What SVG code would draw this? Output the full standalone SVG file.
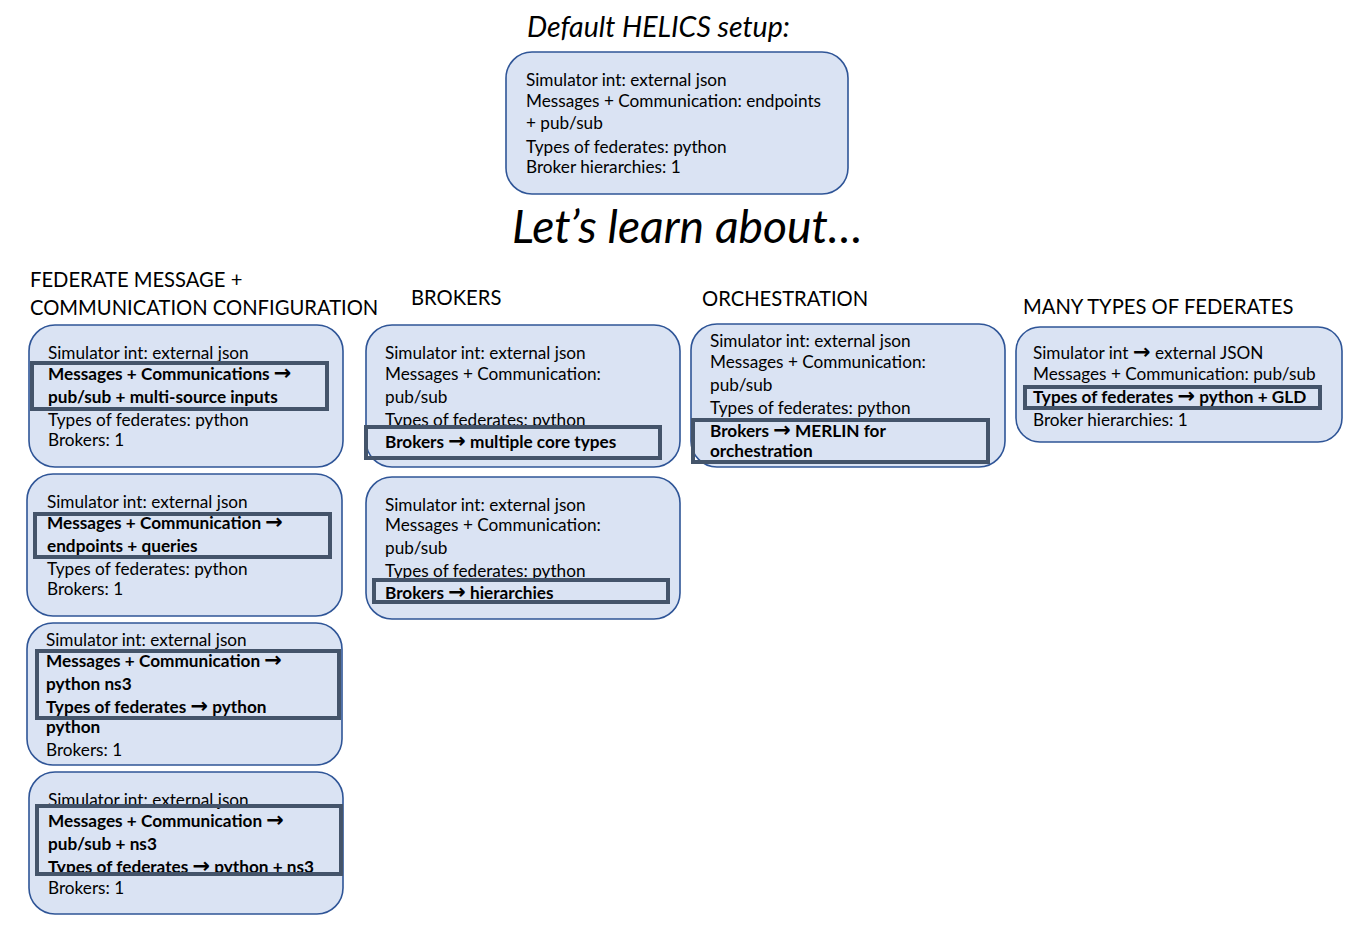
<svg xmlns="http://www.w3.org/2000/svg" width="1366" height="939" viewBox="0 0 1366 939">
<style>
text{font-family:Lato,"Liberation Sans",sans-serif;fill:#000}
.b{fill:#dae3f3;stroke:#2f5597;stroke-width:1.6}
.h{fill:none;stroke:#44546a;stroke-width:4}
.t{font-size:17.2px}
.bd{font-weight:bold}
.hd{font-size:20.2px}
.it{font-style:italic}
.a{font-family:"DejaVu Sans",sans-serif;font-weight:bold;font-size:21px}
</style>
<rect width="1366" height="939" fill="#fff"/>
<text class="it" x="527" y="37" font-size="28.5">Default HELICS setup:</text>
<g id="default">
<rect class="b" x="506" y="52" width="342" height="142" rx="26"/>
<text class="t" x="526" y="86">Simulator int: external json</text>
<text class="t" x="526" y="107">Messages + Communication: endpoints</text>
<text class="t" x="526" y="129">+ pub/sub</text>
<text class="t" x="526" y="153">Types of federates: python</text>
<text class="t" x="526" y="173">Broker hierarchies: 1</text>
</g>
<text class="it" x="512" y="243" font-size="46.3">Let’s learn about…</text>
<text class="hd" x="30" y="287">FEDERATE MESSAGE +</text>
<text class="hd" x="30" y="315">COMMUNICATION CONFIGURATION</text>
<text class="hd" x="411" y="305">BROKERS</text>
<text class="hd" x="702" y="306">ORCHESTRATION</text>
<text class="hd" x="1023" y="314">MANY TYPES OF FEDERATES</text>

<g id="fed1">
<rect class="b" x="29" y="325" width="314" height="142" rx="26"/>
<text class="t" x="48" y="359">Simulator int: external json</text>
<text class="t bd" x="48" y="380">Messages + Communications <tspan class="a">→</tspan></text>
<text class="t bd" x="48" y="403">pub/sub + multi-source inputs</text>
<text class="t" x="48" y="426">Types of federates: python</text>
<text class="t" x="48" y="446">Brokers: 1</text>
<rect class="h" x="32" y="363" width="295" height="46"/>
</g>
<g id="fed2">
<rect class="b" x="27" y="474" width="315" height="142" rx="26"/>
<text class="t" x="47" y="508">Simulator int: external json</text>
<text class="t bd" x="47" y="529">Messages + Communication <tspan class="a">→</tspan></text>
<text class="t bd" x="47" y="552">endpoints + queries</text>
<text class="t" x="47" y="575">Types of federates: python</text>
<text class="t" x="47" y="595">Brokers: 1</text>
<rect class="h" x="35" y="514" width="295" height="43"/>
</g>
<g id="fed3">
<rect class="b" x="27" y="623" width="315" height="142" rx="26"/>
<text class="t" x="46" y="646">Simulator int: external json</text>
<text class="t bd" x="46" y="667">Messages + Communication <tspan class="a">→</tspan></text>
<text class="t bd" x="46" y="690">python ns3</text>
<text class="t bd" x="46" y="713">Types of federates <tspan class="a">→</tspan> python</text>
<text class="t bd" x="46" y="733">python</text>
<text class="t" x="46" y="756">Brokers: 1</text>
<rect class="h" x="37" y="651" width="302" height="67"/>
</g>
<g id="fed4">
<rect class="b" x="29" y="772" width="314" height="142" rx="26"/>
<text class="t" x="48" y="806">Simulator int: external json</text>
<text class="t bd" x="48" y="827">Messages + Communication <tspan class="a">→</tspan></text>
<text class="t bd" x="48" y="850">pub/sub + ns3</text>
<text class="t bd" x="48" y="873">Types of federates <tspan class="a">→</tspan> python + ns3</text>
<text class="t" x="48" y="894">Brokers: 1</text>
<rect class="h" x="37" y="806" width="304" height="68"/>
</g>
<g id="brk1">
<rect class="b" x="366" y="325" width="314" height="142" rx="26"/>
<text class="t" x="385" y="359">Simulator int: external json</text>
<text class="t" x="385" y="380">Messages + Communication:</text>
<text class="t" x="385" y="403">pub/sub</text>
<text class="t" x="385" y="426">Types of federates: python</text>
<text class="t bd" x="385" y="448">Brokers <tspan class="a">→</tspan> multiple core types</text>
<rect class="h" x="366" y="427" width="294" height="31"/>
</g>
<g id="brk2">
<rect class="b" x="366" y="477" width="314" height="142" rx="26"/>
<text class="t" x="385" y="511">Simulator int: external json</text>
<text class="t" x="385" y="531">Messages + Communication:</text>
<text class="t" x="385" y="554">pub/sub</text>
<text class="t" x="385" y="577">Types of federates: python</text>
<text class="t bd" x="385" y="599">Brokers <tspan class="a">→</tspan> hierarchies</text>
<rect class="h" x="374" y="580" width="294" height="22"/>
</g>
<g id="orch">
<rect class="b" x="691" y="324" width="314" height="143" rx="26"/>
<text class="t" x="710" y="347">Simulator int: external json</text>
<text class="t" x="710" y="368">Messages + Communication:</text>
<text class="t" x="710" y="391">pub/sub</text>
<text class="t" x="710" y="414">Types of federates: python</text>
<text class="t bd" x="710" y="437">Brokers <tspan class="a">→</tspan> MERLIN for</text>
<text class="t bd" x="710" y="457">orchestration</text>
<rect class="h" x="693" y="420" width="295" height="42"/>
</g>
<g id="many">
<rect class="b" x="1016" y="327" width="326" height="115" rx="24"/>
<text class="t" x="1033" y="359">Simulator int <tspan class="a">→</tspan> external JSON</text>
<text class="t" x="1033" y="380">Messages + Communication: pub/sub</text>
<text class="t bd" x="1033" y="403">Types of federates <tspan class="a">→</tspan> python + GLD</text>
<text class="t" x="1033" y="426">Broker hierarchies: 1</text>
<rect class="h" x="1025" y="387" width="295" height="21"/>
</g>
<g id="connectors"/>
</svg>
